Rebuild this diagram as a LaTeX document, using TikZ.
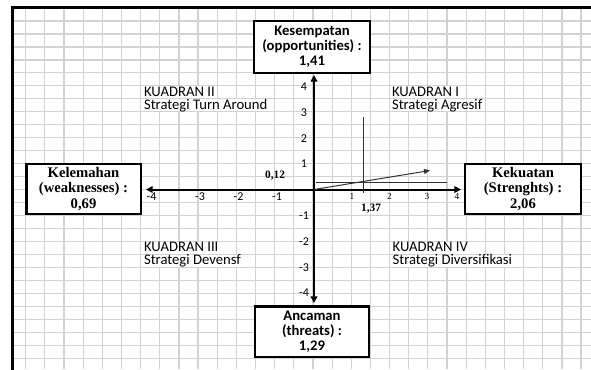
\documentclass[tikz,border=0pt]{standalone}
\usepackage{fontspec}
\setmainfont{Carlito}
\newfontfamily\serfont{Liberation Serif}
\usetikzlibrary{arrows.meta}

% grid helpers: column and row positions of the sheet grid
\newcommand{\gcol}[1]{(25.7+19.15*(#1))}
\newcommand{\grow}[1]{(21+12.97*(#1))}

\begin{document}
\begin{tikzpicture}[x=0.75pt,y=-0.75pt,
  gridline/.style={draw=gray!35,line width=0.9pt},
  frameline/.style={line width=2.25pt,line cap=rect,line join=miter},
  cellbox/.style={draw,line width=2pt,fill=white,align=center,inner sep=0pt},
  sansbox/.style={cellbox,font=\bfseries\fontsize{11}{11.4}\selectfont},
  serbox/.style={cellbox,font=\serfont\bfseries\fontsize{11}{11.4}\selectfont},
  axis/.style={line width=1.5pt,{Triangle[length=5pt,width=5pt]}-{Triangle[length=5pt,width=5pt]}},
  thinline/.style={black!80,line width=0.75pt},
  quad/.style={anchor=base west,inner sep=0pt,font=\fontsize{11}{13}\selectfont},
  tick/.style={inner sep=0pt,font=\fontsize{9}{10}\selectfont},
  sertick/.style={inner sep=0pt,font=\serfont\fontsize{7}{8}\selectfont},
  val/.style={inner sep=0pt,font=\serfont\bfseries\fontsize{8.5}{9}\selectfont}
]
\useasboundingbox (0,0) rectangle (591,369);

% sheet grid
\foreach \k in {0,...,29}
  \draw[gridline] ({\gcol{\k}},9) -- ({\gcol{\k}},369);
\foreach \k in {0,...,26}
  \draw[gridline] (13,{\grow{\k}}) -- (591,{\grow{\k}});

% cells covered by overflowing text (column from, column to, row)
\foreach \ca/\cb/\r in {6/10/5, 6/13/6, 19/23/5, 19/23/6, 6/11/17, 6/12/18, 19/24/17, 19/26/18}
  \fill[white] ({\gcol{\ca}+0.6},{\grow{\r}+0.6}) rectangle ({\gcol{\cb}-0.6},{\grow{\r+1}-0.6});

% sheet frame
\draw[frameline] (12,369) -- (12,7.5) -- (591,7.5);

% quadrant captions
\node[quad] (q2a) at ({\gcol{6}+3.2},{\grow{6}-2.6}) {KUADRAN II};
\node[quad] (q2b) at ({\gcol{6}+3.2},{\grow{7}-2.6}) {Strategi Turn Around};
\node[quad] (q1a) at ({\gcol{19}+2.2},{\grow{6}-2.6}) {KUADRAN I};
\node[quad] (q1b) at ({\gcol{19}+2.2},{\grow{7}-2.6}) {Strategi Agresif};
\node[quad] (q3a) at ({\gcol{6}+3.2},{\grow{18}-2.6}) {KUADRAN III};
\node[quad] (q3b) at ({\gcol{6}+3.2},{\grow{19}-2.6}) {Strategi Devensf};
\node[quad] (q4a) at ({\gcol{19}+2.8},{\grow{18}-2.6}) {KUADRAN IV};
\node[quad] (q4b) at ({\gcol{19}+2.8},{\grow{19}-2.6}) {Strategi Diversifikasi};

% factor boxes
\node[sansbox,minimum width=87pt,minimum height=39pt] (opp) at (312,47)
  {Kesempatan\\(opportunities) :\\1,41};
\node[sansbox,minimum width=85.5pt,minimum height=38pt] (thr) at (312,331.5)
  {Ancaman\\(threats) :\\1,29};
\node[serbox,minimum width=86pt,minimum height=37.5pt] (weak) at (83.5,189)
  {Kelemahan\\(weaknesses) :\\0,69};
\node[serbox,minimum width=87pt,minimum height=37.5pt] (str) at (523,189)
  {Kekuatan\\(Strenghts) :\\2,06};

% axes
\coordinate (O) at (314,189.5);
\coordinate (xl) at (146,189.5);
\coordinate (xr) at (461,189.5);
\coordinate (yt) at (314,75);
\coordinate (yb) at (314,303);
\draw[axis] (xl) -- (xr);
\draw[axis] (yt) -- (yb);

% tick labels
\foreach \t/\y in {4/87,3/113,2/138.5,1/164,-1/216,-2/242,-3/267.5,-4/293}
  \node[tick] (ty\t) at (304,\y) {\t};
\foreach \t/\x in {-4/151.5,-3/200,-2/238.5,-1/277}
  \node[tick] (tx\t) at (\x,197) {\t};
\foreach \t/\x in {1/352,2/389.5,3/427,4/457}
  \node[sertick] (tx\t) at (\x,196.5) {\t};

% position of the company
\coordinate (v1) at (363,117);
\coordinate (v2) at (363,192.5);
\coordinate (h1) at (316,182);
\coordinate (h2) at (447,182);
\coordinate (tip) at (430,170.5);
\draw[thinline] (v1) -- (v2);
\draw[thinline] (h1) -- (h2);
\draw[thinline,-{Triangle[length=4.5pt,width=3.8pt]}] (O) -- (tip);
\node[val] (vy) at (275,176) {0,12};
\node[val] (vx) at (371,209) {1,37};
\end{tikzpicture}
\end{document}
